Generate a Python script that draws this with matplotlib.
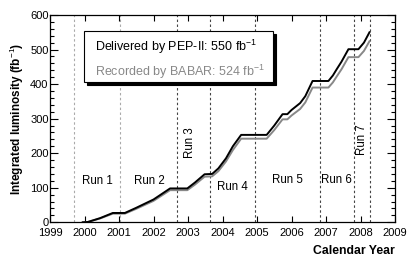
import matplotlib
matplotlib.use("Agg")
import matplotlib.pyplot as plt
from matplotlib.patches import Rectangle
from matplotlib.ticker import MultipleLocator
import matplotlib.transforms as mtransforms

plt.rcParams['font.family'] = ['Liberation Sans', 'DejaVu Sans']
plt.rcParams['mathtext.fontset'] = 'custom'
plt.rcParams['mathtext.rm'] = 'Liberation Sans'
plt.rcParams['mathtext.it'] = 'Liberation Sans:italic'
plt.rcParams['mathtext.bf'] = 'Liberation Sans:bold'

# ---- data ----
years = [1999.95, 2000.10, 2000.45, 2000.82, 2001.17, 2001.50, 2002.00, 2002.48,
         2002.98, 2003.20, 2003.48, 2003.70, 2003.88, 2004.10, 2004.30, 2004.54,
         2005.28, 2005.50, 2005.74, 2005.88, 2006.00, 2006.25, 2006.40, 2006.61,
         2007.07, 2007.20, 2007.31, 2007.45, 2007.65, 2007.94, 2008.10, 2008.26]
delivered = [0, 1, 12, 27, 27, 42, 66, 98,
             98, 115, 139, 140, 156, 185, 220, 253,
             253, 280, 313, 313, 325, 345, 365, 409,
             409, 425, 443, 465, 501, 501, 520, 550]
recorded = [0, 1, 11, 25, 25, 39, 62, 93,
            93, 109, 132, 133, 148, 176, 209, 242,
            242, 267, 298, 298, 309, 328, 347, 390,
            390, 405, 422, 443, 478, 478, 496, 524]
run_bounds = [1999.70, 2001.03, 2002.69, 2003.63, 2004.93, 2006.82, 2007.81, 2008.27]
run_labels = ["Run 1", "Run 2", "Run 3", "Run 4", "Run 5", "Run 6", "Run 7"]
run_label_pos = [(2000.36, 120, 0), (2001.87, 120, 0), (2003.06, 232, 90),
                 (2004.30, 103, 0), (2005.87, 122, 0), (2007.29, 122, 0),
                 (2008.03, 238, 90)]
xticks = list(range(1999, 2010))
delivered_total = 550
recorded_total = 524

fig = plt.figure(figsize=(4.15, 2.65), dpi=100)
ax = fig.add_axes([50/415, 1-222.3/265, 345/415, 207.3/265])

for i, xb in enumerate(run_bounds):
    col = '#aaaaaa' if i < 2 else '#444444'
    ax.axvline(xb, color=col, lw=0.8, linestyle=(0, (2.2, 2.2)), zorder=1)

ax.plot(years, recorded, color='#888888', lw=1.4, zorder=3)
ax.plot(years, delivered, color='black', lw=1.4, zorder=4)

for lab, (xx, yy, rot) in zip(run_labels, run_label_pos):
    ax.text(xx, yy, lab, ha='center', va='center', rotation=rot, fontsize=8.3, zorder=5)

ax.set_xlim(1999, 2009)
ax.set_ylim(0, 600)
ax.set_xticks(xticks)
ax.set_xticklabels([str(x) for x in xticks])
ax.yaxis.set_major_locator(MultipleLocator(100))
ax.yaxis.set_minor_locator(MultipleLocator(20))
ax.tick_params(axis='both', which='both', direction='in', top=True, right=True,
               labelsize=8, width=0.8)
ax.tick_params(axis='x', which='major', length=4.5, pad=4.0)
ax.tick_params(axis='y', which='major', length=5.8, pad=1.0)
ax.tick_params(axis='y', which='minor', length=3.0)
for s in ax.spines.values():
    s.set_linewidth(0.9)

ax.set_ylabel(r"Integrated luminosity (fb$^{-1}$)", fontsize=8.5, fontweight='bold',
              labelpad=3)
ax.set_xlabel("Calendar Year", fontsize=8.8, fontweight='bold')
ax.xaxis.set_label_coords(1.0, -0.11)
ax.xaxis.label.set_ha('right')

# legend box with shadow
x0, x1, y0, y1 = 0.0986, 0.646, 0.678, 0.924
shadow_tr = mtransforms.offset_copy(ax.transAxes, fig=fig, x=3, y=-3, units='dots')
ax.add_patch(Rectangle((x0, y0), x1-x0, y1-y0, transform=shadow_tr,
                       facecolor='black', edgecolor='black', lw=0.8, zorder=6))
ax.add_patch(Rectangle((x0, y0), x1-x0, y1-y0, transform=ax.transAxes,
                       facecolor='white', edgecolor='black', lw=0.8, zorder=7))
ax.text(0.130, 0.847, r"Delivered by PEP-II: %d fb$^{-1}$" % delivered_total,
        transform=ax.transAxes, fontsize=9, va='center', ha='left', color='black', zorder=8)
ax.text(0.130, 0.726, r"Recorded by BABAR: %d fb$^{-1}$" % recorded_total,
        transform=ax.transAxes, fontsize=9, va='center', ha='left', color='#888888', zorder=8)

fig.savefig("out.png", dpi=100)
